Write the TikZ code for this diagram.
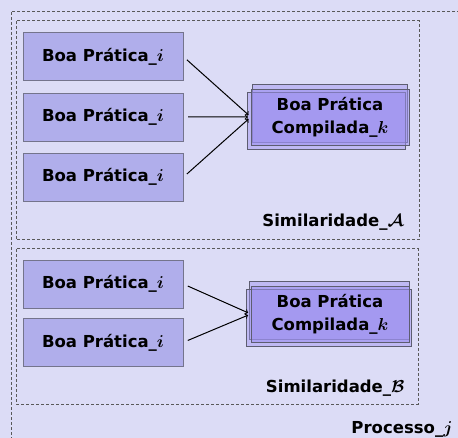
\documentclass[tikz,border=0pt]{standalone}
\usepackage{fontspec}
\setmainfont{DejaVu Sans}
\usetikzlibrary{arrows,positioning,backgrounds}

\definecolor{bgcol}{HTML}{DCDCF6}
\definecolor{boxcol}{HTML}{B0AEEB}
\definecolor{compcol}{HTML}{9C90F0}
\definecolor{edgecol}{HTML}{74748C}

\begin{document}
\begin{tikzpicture} [
	x=1pt, y=-1pt,
	font=\fontsize{16.5}{23}\selectfont\bfseries\boldmath,
	practice/.style = {draw=edgecol, fill=boxcol, minimum width=160pt, minimum height=48pt, inner sep=0pt},
	compiled/.style = {draw=edgecol!80!black, fill=compcol, fill opacity=0.55, text opacity=1, minimum width=158pt, minimum height=56pt, inner sep=0pt, align=center},
	layer/.style = {draw=edgecol!80!black, fill=compcol, fill opacity=0.45},
	group/.style = {draw=black!65, densely dashed, line width=1pt},
	link/.style = {->, >=to, line width=1pt, shorten <=5pt, shorten >=3pt},
]
\useasboundingbox (0,0) rectangle (458,438);
\clip (0,0) rectangle (458,438);
\begin{scope}[on background layer]
	\fill [bgcol] (0,0) rectangle (458,438);
\end{scope}

% process and the two groups
\draw [group] (11,12) rectangle (470,450);
\draw [group] (16,21) rectangle (419,240);
\draw [group] (16,249) rectangle (418,404);

% group A
\node [practice] (a1) at (103,56.5) {Boa Prática\_$i$};
\node [practice, below=12pt of a1] (a2) {Boa Prática\_$i$};
\node [practice, below=12pt of a2] (a3) {Boa Prática\_$i$};
\node [compiled] (ca) at (330,117) {Boa Prática\\Compilada\_$k$};
\begin{scope}[on background layer]
	\draw [layer] ([shift={(1,-5)}]ca.north west) rectangle ([shift={(-2,-3)}]ca.south east);
	\draw [layer] ([shift={(-4,3)}]ca.north west) rectangle ([shift={(-4,4)}]ca.south east);
\end{scope}
\foreach \p in {a1,a2,a3}
	\draw [link] (\p.east) -- (ca.west);
\node [anchor=base east] (sa) at (407,227) {Similaridade\_$\mathcal{A}$};

% group B
\node [practice] (b1) at (103,284) {Boa Prática\_$i$};
\node [practice, below=10pt of b1] (b2) {Boa Prática\_$i$};
\node [compiled] (cb) at (330,314) {Boa Prática\\Compilada\_$k$};
\begin{scope}[on background layer]
	\draw [layer] ([shift={(-2,-5)}]cb.north west) rectangle ([shift={(0,-3)}]cb.south east);
	\draw [layer] ([shift={(-5,3)}]cb.north west) rectangle ([shift={(2,4)}]cb.south east);
\end{scope}
\foreach \p in {b1,b2}
	\draw [link] (\p.east) -- (cb.west);
\node [anchor=base east] (sb) at (408,392) {Similaridade\_$\mathcal{B}$};

\node [anchor=base east] (pj) at (456,433) {Processo\_$j$};
\end{tikzpicture}
\end{document}
